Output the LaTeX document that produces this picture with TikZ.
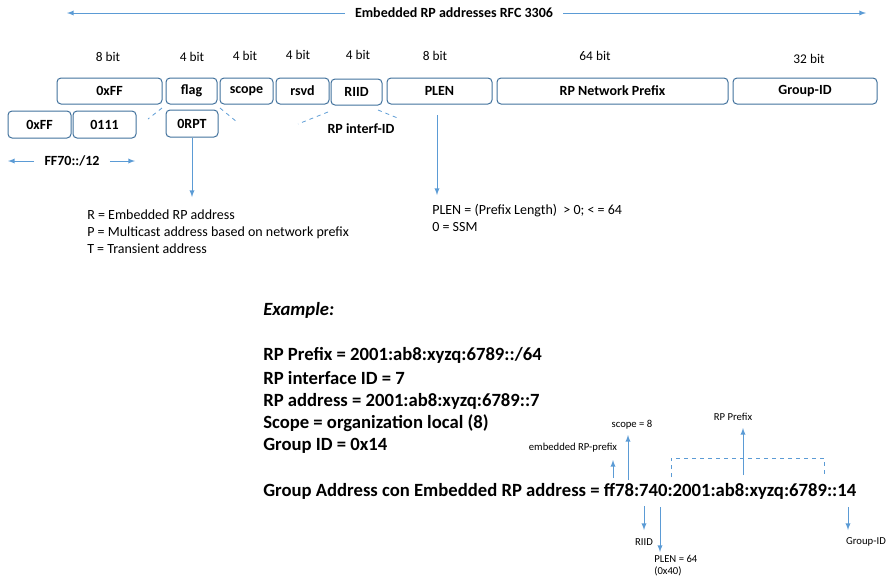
\documentclass[tikz,border=0pt]{standalone}
\usepackage{fontspec}
\setmainfont{Carlito}
\usetikzlibrary{arrows}
\definecolor{boxline}{RGB}{65,113,156}
\definecolor{arrowblue}{RGB}{91,155,213}
\tikzstyle{field} = [rectangle, rounded corners=3pt, 
draw=boxline, line width=0.75pt, 
inner sep=0pt, 
minimum height=19.5pt, 
text centered, 
font=\fontsize{10.5}{12}\selectfont\bfseries]
\tikzstyle{bitlabel} = [font=\fontsize{10}{12}\selectfont]
\tikzstyle{note} = [align=left, anchor=north west, inner sep=0pt, 
font=\fontsize{10.5}{12.4}\selectfont]
\tikzstyle{small} = [inner sep=0pt, font=\fontsize{8}{9}\selectfont]
\tikzstyle{example} = [anchor=west, inner sep=0pt, 
font=\fontsize{14}{17}\selectfont\bfseries]
\tikzstyle{arrow} = [draw=arrowblue, line width=0.75pt,->,>=latex]
\tikzstyle{guide} = [draw=arrowblue, line width=0.6pt, dashed]

\begin{document}
\begin{tikzpicture}[x=0.75pt, y=-0.75pt]
\useasboundingbox (0,0) rectangle (895,587);

% title with arrows
\node (title) [font=\fontsize{10.5}{12}\selectfont\bfseries, inner xsep=7.5pt] at (454,13) {Embedded RP addresses RFC 3306};
\coordinate (tleft) at (67,13);
\coordinate (tright) at (866,13);
\draw [arrow] (title) -- (tleft);
\draw [arrow] (title) -- (tright);

% address fields
\node (ffA) [field, minimum width=78.75pt] at (109.5,91) {0xFF};
\node (flag) [field, minimum width=38.25pt] at (191.5,91) {flag};
\node (scope) [field, minimum width=39.75pt] at (246.5,91) {scope};
\node (rsvd) [field, minimum width=39.75pt] at (302.5,91) {rsvd};
\node (riid) [field, minimum width=38.25pt] at (356.5,92) {RIID};
\node (plen) [field, minimum width=78.75pt] at (439.5,91) {PLEN};
\node (rpnp) [field, minimum width=173.25pt] at (612.5,91) {RP Network Prefix};
\node (gid) [field, minimum width=108pt] at (805,91) {Group-ID};

% bit sizes
\node (b1) [bitlabel] at (108,57) {8 bit};
\node (b2) [bitlabel] at (192,57) {4 bit};
\node (b3) [bitlabel] at (245,56) {4 bit};
\node (b4) [bitlabel] at (298,55) {4 bit};
\node (b5) [bitlabel] at (358,55) {4 bit};
\node (b6) [bitlabel] at (435,56) {8 bit};
\node (b7) [bitlabel] at (595,56) {64 bit};
\node (b8) [bitlabel] at (809,59) {32 bit};

% second row
\node (ffB) [field, minimum width=47.25pt, minimum height=20.25pt] at (39.5,124.5) {0xFF};
\node (seven) [field, minimum width=47.25pt, minimum height=20.25pt] at (104.5,124.5) {0111};
\node (orpt) [field, minimum width=39pt, minimum height=20.25pt] at (192,123.5) {0RPT};
\node (interf) [font=\fontsize{10.5}{12}\selectfont\bfseries] at (361,129) {RP interf-ID};

% FF70::/12
\node (ff70) [font=\fontsize{10.5}{12}\selectfont\bfseries, inner xsep=7.5pt] at (72,161) {FF70::/12};
\coordinate (fleft) at (8,161);
\coordinate (fright) at (135,161);
\draw [arrow] (ff70) -- (fleft);
\draw [arrow] (ff70) -- (fright);

% dashed guides
\draw [guide] (162,108) -- (148,119);
\draw [guide] (220,108) -- (237,122);
\draw [guide] (328,112) -- (298,124);
\draw [guide] (378,110) -- (400,119);

% flag and PLEN notes
\node (flagnote) [note] at (87,210) {R = Embedded RP address\\P = Multicast address based on network prefix\\T = Transient address};
\node (plennote) [note] at (432,204) {PLEN = (Prefix Length)\ \ > 0; < = 64\\0 = SSM};
\coordinate (flagend) at (192,197);
\coordinate (plentop) at (437,115);
\coordinate (plenend) at (437,195);
\draw [arrow] (orpt) -- (flagend);
\draw [arrow] (plentop) -- (plenend);

% example
\node (ex) [example, font=\fontsize{14}{17}\selectfont\bfseries\itshape] at (263,310) {Example:};
\node (ex1) [example] at (263,355) {RP Prefix = 2001:ab8:xyzq:6789::/64};
\node (ex2) [example] at (263,378) {RP interface ID = 7};
\node (ex3) [example] at (263,401) {RP address = 2001:ab8:xyzq:6789::7};
\node (ex4) [example] at (263,423) {Scope = organization local (8)};
\node (ex5) [example] at (263,446) {Group ID = 0x14};
\node (ga) [example] at (263,491) {Group Address con Embedded RP address = ff78:740:2001:ab8:xyzq:6789::14};

% labels on the group address
\node (embed) [small] at (573,448) {embedded RP-prefix};
\node (sc8) [small] at (632,425) {scope = 8};
\node (rpp) [small] at (733,417) {RP Prefix};
\node (riidl) [small] at (644,542) {RIID};
\node (plenl) [small, align=left, anchor=north west] at (654,555) {PLEN = 64\\(0x40)};
\node (gidl) [small] at (866,542) {Group-ID};

\coordinate (a1) at (613,478);
\coordinate (a1end) at (613,460);
\coordinate (a2) at (628,480);
\coordinate (a2end) at (628,435);
\coordinate (a3) at (743,475);
\coordinate (a3end) at (743,428);
\coordinate (a4) at (644,506);
\coordinate (a4end) at (644,530);
\coordinate (a5) at (660,507);
\coordinate (a5end) at (660,552);
\coordinate (a6) at (848,507);
\coordinate (a6end) at (848,530);
\draw [arrow] (a1) -- (a1end);
\draw [arrow] (a2) -- (a2end);
\draw [arrow] (a3) -- (a3end);
\draw [arrow] (a4) -- (a4end);
\draw [arrow] (a5) -- (a5end);
\draw [arrow] (a6) -- (a6end);
\draw [guide] (671,477) -- (671,458) -- (824,458) -- (824,477);

\end{tikzpicture}
\end{document}
